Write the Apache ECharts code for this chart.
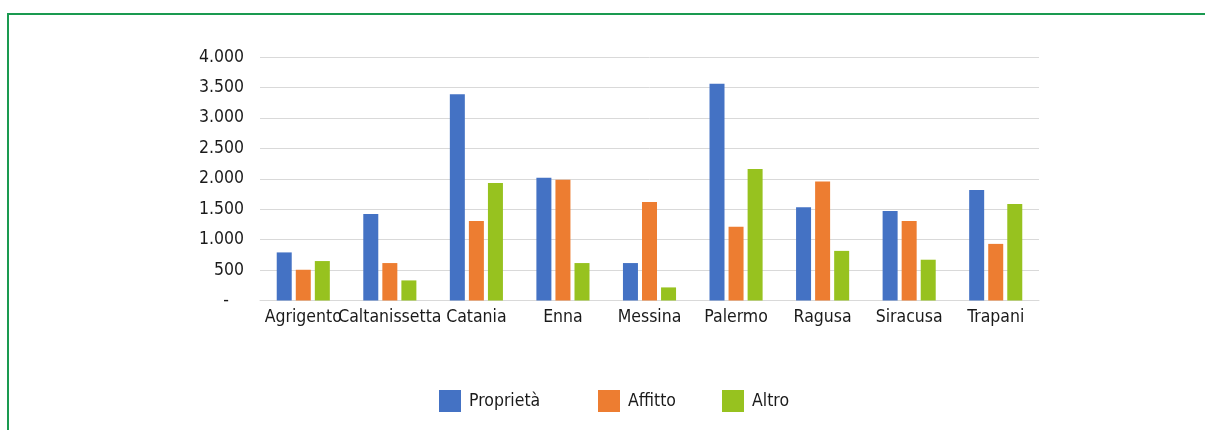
<!DOCTYPE html>
<html>
<head>
<meta charset="utf-8">
<script src="https://cdn.jsdelivr.net/npm/echarts@6/dist/echarts.min.js"></script>
<style>
html,body{margin:0;padding:0;background:#fff;}
#c{width:1205px;height:430px;}
</style>
</head>
<body>
<div id="c"></div>
<script>
const categories = ['Agrigento','Caltanissetta','Catania','Enna','Messina','Palermo','Ragusa','Siracusa','Trapani'];
const seriesNames = ['Proprietà','Affitto','Altro'];
const proprieta = [790, 1420, 3390, 2015, 615, 3560, 1530, 1470, 1815];
const affitto   = [505, 615, 1305, 1985, 1620, 1210, 1955, 1305, 930];
const altro     = [648, 330, 1930, 615, 215, 2160, 815, 670, 1585];
const yTicks = [0, 500, 1000, 1500, 2000, 2500, 3000, 3500, 4000];
const colors = ['#4472C4','#ED7D31','#97C21F'];

const FONT = '"DejaVu Sans Condensed", "Liberation Sans Narrow", sans-serif';
function fmt(v){
  if (v === 0) return '-   ';
  return String(v).replace(/\B(?=(\d{3})+(?!\d))/g, '.');
}
const legendLefts = [439, 598, 722];
const legends = seriesNames.map((n, i) => ({
  data:[n], top:390, left:legendLefts[i], padding:0,
  itemWidth:22, itemHeight:22, icon:'rect',
  textStyle:{fontFamily:FONT, fontSize:17.5, color:'#1a1a1a', padding:[2,0,0,3]}
}));
const chart = echarts.init(document.getElementById('c'), null, {renderer:'canvas'});
chart.setOption({
  animation:false,
  backgroundColor:'#ffffff',
  graphic:[{
    type:'rect', shape:{x:8, y:14, width:1230, height:440},
    style:{fill:'none', stroke:'#1a9a50', lineWidth:2}, z:-1
  }],
  grid:{left:260, right:166, top:57, bottom:129.5, containLabel:false},
  legend:legends,
  xAxis:{
    type:'category', data:categories,
    axisLine:{lineStyle:{color:'#d9d9d9'}},
    axisTick:{show:false},
    axisLabel:{fontFamily:FONT, fontSize:17.5, color:'#1a1a1a', margin:8, interval:0}
  },
  yAxis:{
    type:'value', min:yTicks[0], max:yTicks[yTicks.length-1], interval:500,
    axisLine:{show:false}, axisTick:{show:false},
    splitLine:{lineStyle:{color:'#d9d9d9'}},
    axisLabel:{fontFamily:FONT, fontSize:17.5, color:'#1a1a1a', margin:16, formatter:fmt}
  },
  series:[
    {name:seriesNames[0], type:'bar', data:proprieta, itemStyle:{color:colors[0]}, barWidth:15, barGap:'27%'},
    {name:seriesNames[1], type:'bar', data:affitto, itemStyle:{color:colors[1]}, barWidth:15, barGap:'27%'},
    {name:seriesNames[2], type:'bar', data:altro, itemStyle:{color:colors[2]}, barWidth:15, barGap:'27%'}
  ]
});
</script>
</body>
</html>
